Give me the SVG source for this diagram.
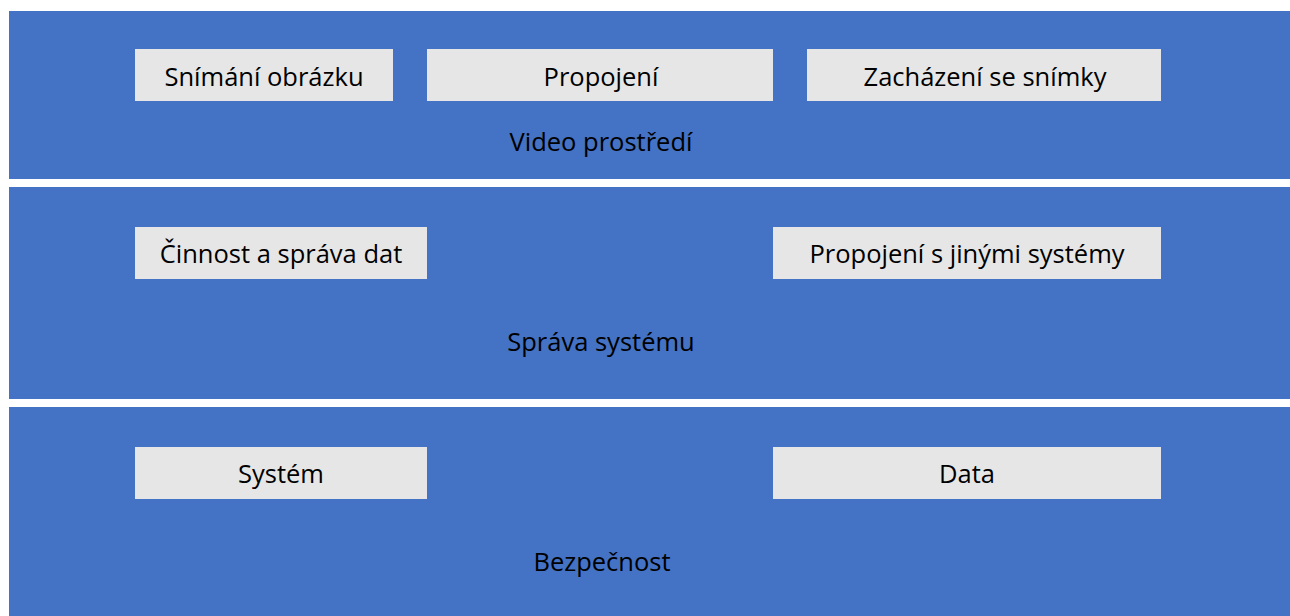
<svg xmlns="http://www.w3.org/2000/svg" width="1290" height="616" viewBox="0 0 1290 616">
<style>
.band{fill:#4472C4}
.box{fill:#E7E6E6}
text{font-family:"Open Sans","Liberation Sans",sans-serif;font-size:25.5px;fill:#000;text-anchor:middle;dominant-baseline:central}
</style>
<rect width="1290" height="616" fill="#fff"/>
<g id="video">
<rect class="band" x="9" y="11" width="1281" height="168"/>
<text x="601" y="141">Video prostředí</text>
</g>
<g id="sprava">
<rect class="band" x="9" y="187" width="1281" height="212"/>
<text x="601" y="341">Správa systému</text>
</g>
<g id="bezpecnost">
<rect class="band" x="9" y="407" width="1281" height="209"/>
<text x="602" y="561">Bezpečnost</text>
</g>
<g id="snimani"><rect class="box" x="135" y="49" width="258" height="52"/><text x="264" y="76">Snímání obrázku</text></g>
<g id="propojeni"><rect class="box" x="427" y="49" width="346" height="52"/><text x="601" y="76">Propojení</text></g>
<g id="zachazeni"><rect class="box" x="807" y="49" width="354" height="52"/><text x="985" y="76">Zacházení se snímky</text></g>
<g id="cinnost"><rect class="box" x="135" y="227" width="292" height="52"/><text x="281" y="253">Činnost a správa dat</text></g>
<g id="propojeni-systemy"><rect class="box" x="773" y="227" width="388" height="52"/><text x="967" y="253">Propojení s jinými systémy</text></g>
<g id="system"><rect class="box" x="135" y="447" width="292" height="52"/><text x="281" y="473">Systém</text></g>
<g id="data"><rect class="box" x="773" y="447" width="388" height="52"/><text x="967" y="473">Data</text></g>
<g id="connectors"/>
</svg>
